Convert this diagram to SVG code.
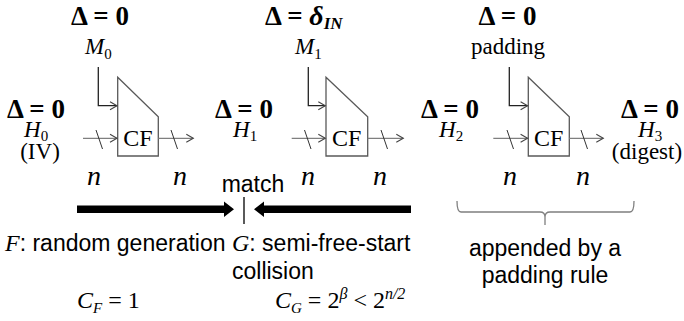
<svg xmlns="http://www.w3.org/2000/svg" width="684" height="321" viewBox="0 0 684 321">
<defs>
<style>
.tm{font-family:"Liberation Serif","Times New Roman",serif;fill:#000}
.d{font-family:"Liberation Serif",serif;font-weight:bold;font-size:27px}
.it{font-style:italic}
.v{font-size:23px}
.sub{font-size:15px}
.ss{font-family:"Liberation Sans",Arial,sans-serif;font-size:23px;fill:#000}
.cf{fill:#fff;stroke:#595959;stroke-width:1.3}
.h{stroke:#7f7f7f;stroke-width:1.3;fill:none}
.m{stroke:#222;stroke-width:1.3;fill:none}
.sl{stroke:#333;stroke-width:1}
</style>
<marker id="ah" markerWidth="10" markerHeight="10" refX="8" refY="5" orient="auto" markerUnits="userSpaceOnUse">
<path d="M1,1 L8,5 L1,9" fill="none" stroke="#444" stroke-width="1.1"/>
</marker>
</defs>
<rect width="684" height="321" fill="#fff"/>

<g id="node-cf1">
<path class="cf" d="M117.7,77.3 L158.3,116.7 L158.3,156 L117.7,156 Z"/>
<text class="tm" x="138" y="146" font-size="24" text-anchor="middle">CF</text>
</g>
<g id="node-cf2">
<path class="cf" d="M326,77.3 L367.7,116.7 L367.7,156 L326,156 Z"/>
<text class="tm" x="346.8" y="146" font-size="24" text-anchor="middle">CF</text>
</g>
<g id="node-cf3">
<path class="cf" d="M528.3,77.3 L569.3,116.7 L569.3,156 L528.3,156 Z"/>
<text class="tm" x="548.8" y="146" font-size="24" text-anchor="middle">CF</text>
</g>

<g id="node-m0">
<text class="tm d" x="100" y="25" text-anchor="middle">Δ = 0</text>
<text class="tm v it" x="85" y="54">M<tspan class="sub" font-style="normal" dy="5">0</tspan></text>
</g>
<g id="node-m1">
<text class="tm d" x="265" y="25">Δ = <tspan font-style="italic" font-size="28">δ</tspan><tspan font-style="italic" font-size="17" dy="4">IN</tspan></text>
<text class="tm v it" x="295" y="54">M<tspan class="sub" font-style="normal" dy="5">1</tspan></text>
</g>
<g id="node-pad">
<text class="tm d" x="507.5" y="25" text-anchor="middle">Δ = 0</text>
<text class="tm v" x="508" y="54" text-anchor="middle">padding</text>
</g>

<g id="node-h0">
<text class="tm d" x="36" y="118" text-anchor="middle">Δ = 0</text>
<text class="tm v it" x="24" y="137">H<tspan class="sub" font-style="normal" dy="4">0</tspan></text>
<text class="tm v" x="40" y="159" text-anchor="middle">(IV)</text>
</g>
<g id="node-h1">
<text class="tm d" x="244" y="118" text-anchor="middle">Δ = 0</text>
<text class="tm v it" x="233" y="137">H<tspan class="sub" font-style="normal" dy="4">1</tspan></text>
</g>
<g id="node-h2">
<text class="tm d" x="450" y="118" text-anchor="middle">Δ = 0</text>
<text class="tm v it" x="439" y="137">H<tspan class="sub" font-style="normal" dy="4">2</tspan></text>
</g>
<g id="node-h3">
<text class="tm d" x="650" y="118" text-anchor="middle">Δ = 0</text>
<text class="tm v it" x="638" y="137">H<tspan class="sub" font-style="normal" dy="4">3</tspan></text>
<text class="tm v" x="647" y="159" text-anchor="middle">(digest)</text>
</g>

<g id="connectors">
<path class="m" d="M98.3,67 V105.7 H117" marker-end="url(#ah)"/>
<path class="m" d="M308.3,67 V105.7 H325.3" marker-end="url(#ah)"/>
<path class="m" d="M509.3,67 V105.7 H527.6" marker-end="url(#ah)"/>
<line class="h" x1="83" y1="138.3" x2="117" y2="138.3" marker-end="url(#ah)"/>
<line class="h" x1="158.3" y1="138.3" x2="193.3" y2="138.3" marker-end="url(#ah)"/>
<line class="h" x1="291.7" y1="138.3" x2="325.3" y2="138.3" marker-end="url(#ah)"/>
<line class="h" x1="367.7" y1="138.3" x2="403.3" y2="138.3" marker-end="url(#ah)"/>
<line class="h" x1="493.3" y1="138.3" x2="527.6" y2="138.3" marker-end="url(#ah)"/>
<line class="h" x1="569.3" y1="138.3" x2="603.3" y2="138.3" marker-end="url(#ah)"/>
<line class="sl" x1="96" y1="130" x2="102.5" y2="149"/>
<line class="sl" x1="171" y1="130" x2="177.5" y2="149"/>
<line class="sl" x1="304.5" y1="130" x2="311" y2="149"/>
<line class="sl" x1="381" y1="130" x2="387.5" y2="149"/>
<line class="sl" x1="507" y1="130" x2="513.5" y2="149"/>
<line class="sl" x1="581" y1="130" x2="587.5" y2="149"/>
<polygon fill="#000" points="77,205.5 224,205.5 224,201.5 234,209.3 224,217 224,213 77,213"/>
<polygon fill="#000" points="411,205.5 264,205.5 264,201.5 254,209.3 264,217 264,213 411,213"/>
<line x1="244" y1="197" x2="244" y2="224" stroke="#000" stroke-width="1.3"/>
<path d="M457,201 Q457,212 461,212 H540 Q545,212 545,217 V225 M545,217 Q545,212 550,212 H630 Q634,212 634,201" fill="none" stroke="#7f7f7f" stroke-width="1.3"/>
</g>

<g id="labels">
<text class="tm it" x="94" y="185" font-size="28" text-anchor="middle">n</text>
<text class="tm it" x="180" y="185" font-size="28" text-anchor="middle">n</text>
<text class="tm it" x="308" y="185" font-size="28" text-anchor="middle">n</text>
<text class="tm it" x="380" y="185" font-size="28" text-anchor="middle">n</text>
<text class="tm it" x="510" y="185" font-size="28" text-anchor="middle">n</text>
<text class="tm it" x="583" y="185" font-size="28" text-anchor="middle">n</text>
<text class="ss" x="253" y="192" text-anchor="middle">match</text>
<text x="5" y="251"><tspan class="tm it" font-size="24">F</tspan><tspan class="ss">: random generation</tspan></text>
<text x="232" y="251"><tspan class="tm it" font-size="24">G</tspan><tspan class="ss">: semi-free-start</tspan></text>
<text class="ss" x="232" y="279">collision</text>
<text class="ss" x="545" y="256" text-anchor="middle">appended by a</text>
<text class="ss" x="545" y="283" text-anchor="middle">padding rule</text>
<text class="tm it" x="77" y="308" font-size="24">C<tspan class="sub" dy="5">F</tspan><tspan font-style="normal" dy="-5"> = 1</tspan></text>
<text class="tm it" x="275" y="308" font-size="24">C<tspan class="sub" dy="5">G</tspan><tspan font-style="normal" dy="-5"> = 2</tspan><tspan font-size="16" dy="-9">β</tspan><tspan font-style="normal" dy="9"> &lt; 2</tspan><tspan font-size="16" dy="-9">n/2</tspan></text>
</g>
</svg>
